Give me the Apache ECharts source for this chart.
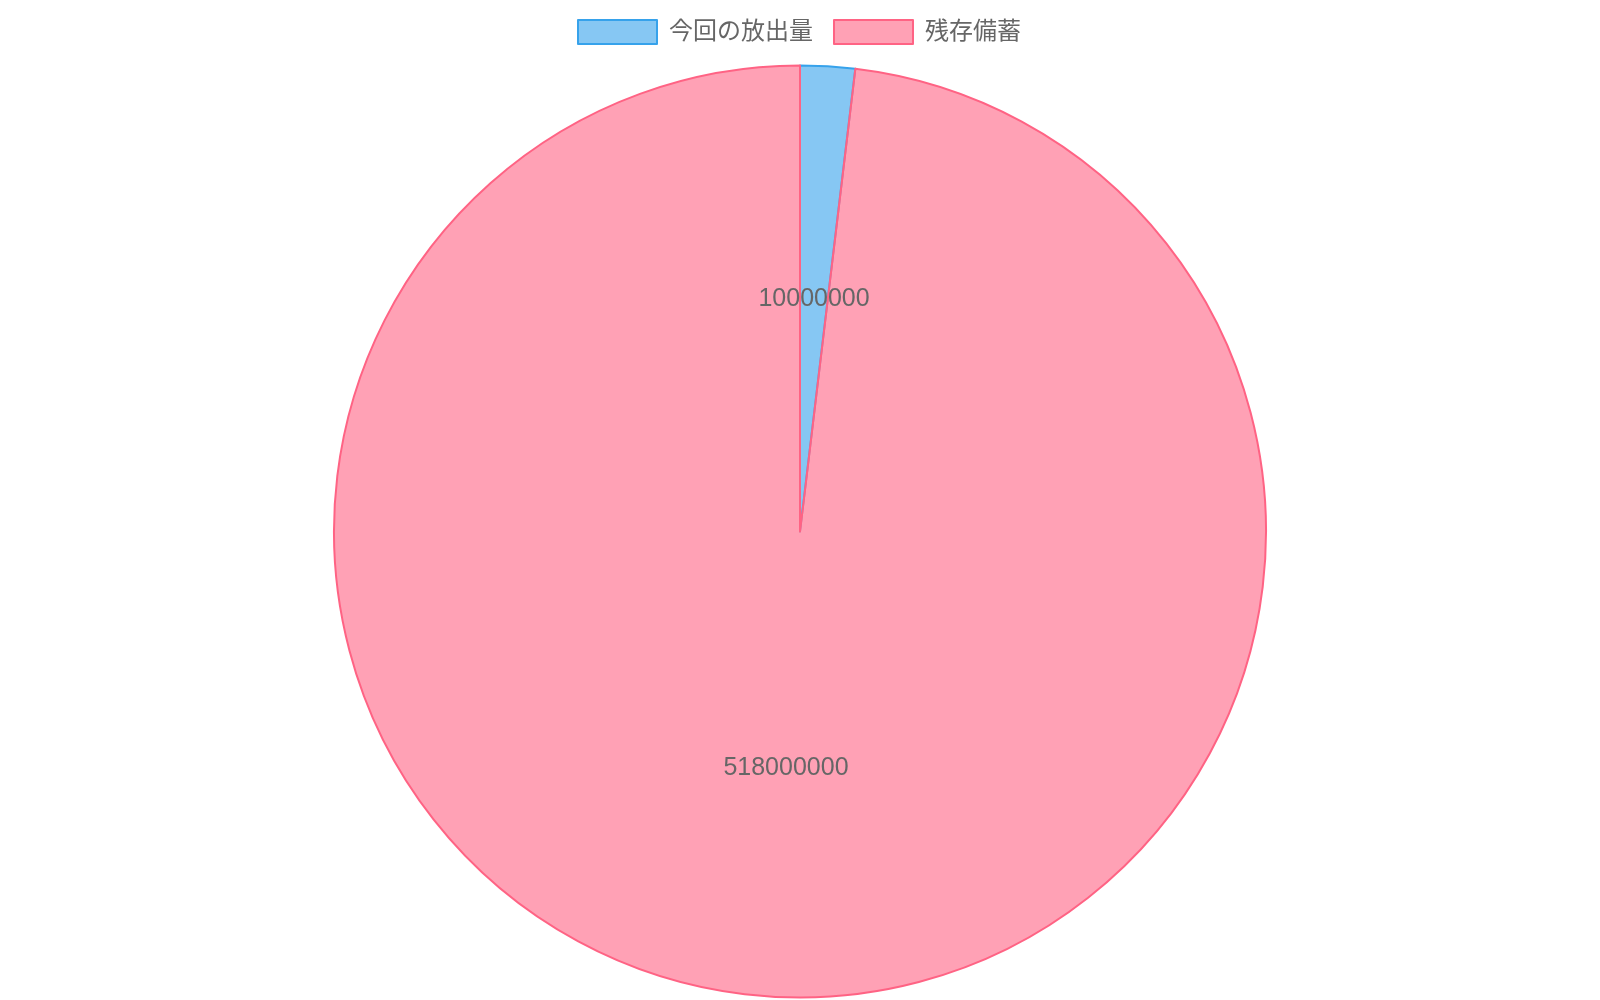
<!DOCTYPE html>
<html>
<head>
<meta charset="utf-8">
<script src="https://cdn.jsdelivr.net/npm/echarts@6/dist/echarts.min.js"></script>
<style>
html,body{margin:0;padding:0;background:#fff;}
#chart{width:1600px;height:1000px;}
</style>
</head>
<body>
<div id="chart"></div>
<script>
const categories = ['今回の放出量', '残存備蓄'];
const values = [10000000, 518000000];
const fillColors = ['rgba(54,162,235,0.6)', 'rgba(255,99,132,0.6)'];
const borderColors = ['#36A2EB', '#FF6384'];
const labelOffsets = [[0, 3], [0, 1]];

const FONT = "'Liberation Sans', 'Noto Sans CJK JP', sans-serif";
const chart = echarts.init(document.getElementById('chart'));
chart.setOption({
  backgroundColor: '#ffffff',
  animation: false,
  legend: {
    top: 19,
    left: 577,
    padding: 0,
    itemWidth: 79,
    itemHeight: 24,
    itemGap: 20,
    icon: 'rect',
    data: categories,
    textStyle: { fontSize: 24, color: '#666666', fontFamily: FONT, padding: [0, 0, 0, 7] }
  },
  series: [{
    type: 'pie',
    center: [800, 531.5],
    radius: [0, 466],
    startAngle: 90,
    clockwise: true,
    avoidLabelOverlap: false,
    silent: true,
    label: {
      show: true,
      position: 'inside',
      formatter: p => String(p.value),
      fontSize: 25,
      color: '#666666',
      fontFamily: FONT
    },
    labelLine: { show: false },
    data: categories.map((c, i) => ({
      name: c,
      value: values[i],
      label: { offset: labelOffsets[i] },
      itemStyle: { color: fillColors[i], borderColor: borderColors[i], borderWidth: 2 }
    }))
  }]
});
</script>
</body>
</html>
